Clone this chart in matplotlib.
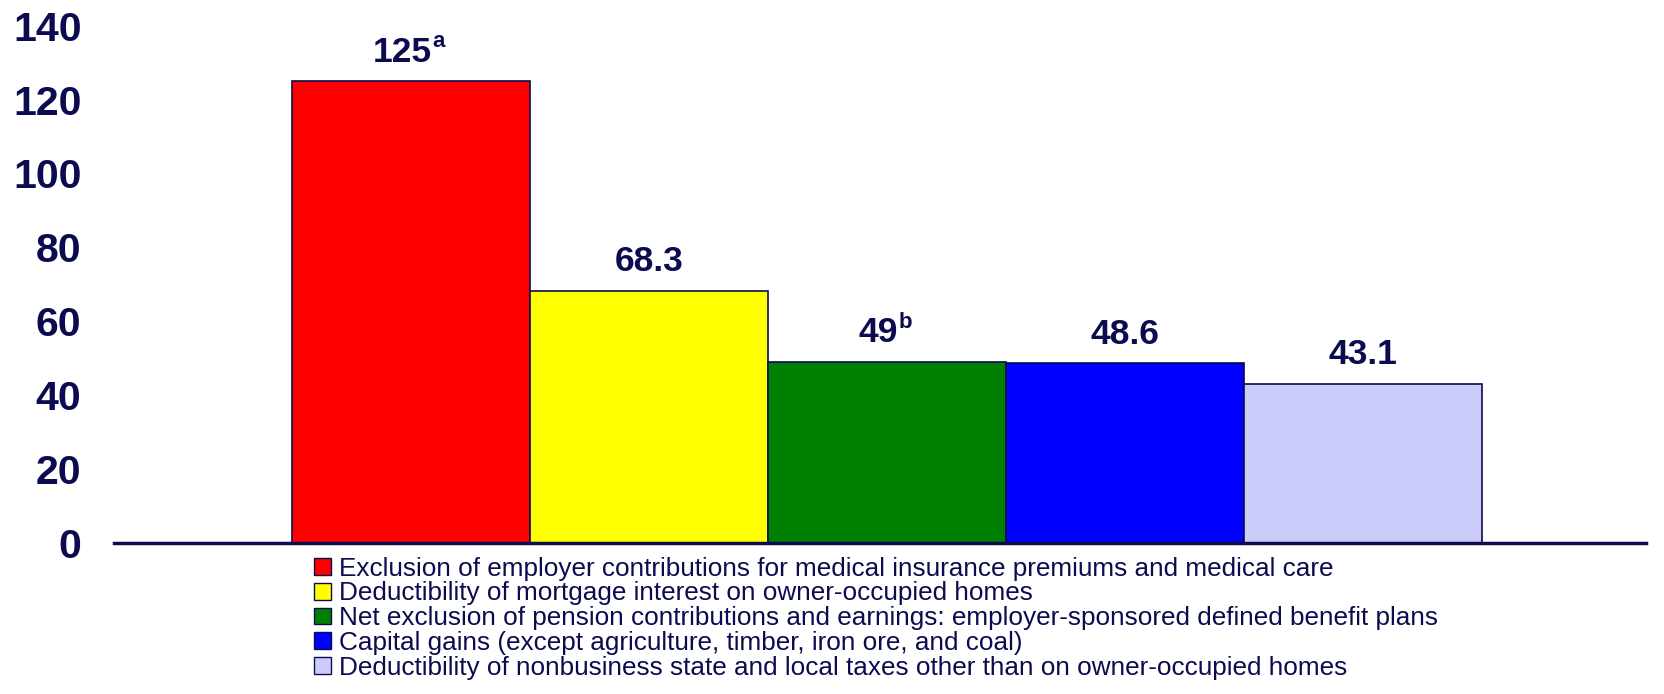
import matplotlib
matplotlib.use("Agg")
import matplotlib.pyplot as plt
from matplotlib.patches import Patch

categories = [
    "Exclusion of employer contributions for medical insurance premiums and medical care",
    "Deductibility of mortgage interest on owner-occupied homes",
    "Net exclusion of pension contributions and earnings: employer-sponsored defined benefit plans",
    "Capital gains (except agriculture, timber, iron ore, and coal)",
    "Deductibility of nonbusiness state and local taxes other than on owner-occupied homes",
]
values = [125, 68.3, 49, 48.6, 43.1]
value_labels = ["125", "68.3", "49", "48.6", "43.1"]
footnotes = ["a", "", "b", "", ""]
colors = ["#ff0000", "#ffff00", "#008000", "#0000ff", "#ccccfa"]
yticks = [0, 20, 40, 60, 80, 100, 120, 140]

navy = "#0b0b4f"
plt.rcParams["font.family"] = ["Liberation Sans", "DejaVu Sans"]

fig = plt.figure(figsize=(16.65, 6.94), dpi=100)
ax = fig.add_axes([0.0685, 0.2176, 0.9201, 0.7454])

xs = list(range(len(values)))
ax.bar(xs, values, width=1.0, color=colors, edgecolor=navy, linewidth=1.2, zorder=2)
ax.set_xlim(-1.248, 5.19)
ax.set_ylim(0, 140)
ax.set_yticks(yticks)
ax.set_yticklabels([str(t) for t in yticks], fontsize=29.5, fontweight="bold", color=navy)
ax.tick_params(axis="y", length=0, pad=23.5)
ax.set_xticks([])
for s in ["left", "right", "top"]:
    ax.spines[s].set_visible(False)
ax.spines["bottom"].set_color(navy)
ax.spines["bottom"].set_linewidth(2.5)

for x, v, lab, fn in zip(xs, values, value_labels, footnotes):
    shift = -6 if fn else 0
    main = ax.annotate(lab, (x, v), xytext=(shift, 9), textcoords="offset points",
                       ha="center", va="bottom", fontsize=25.5, fontweight="bold", color=navy)
    if fn:
        ax.annotate(fn, xy=(1, 1), xycoords=main, xytext=(0, 3), textcoords="offset points",
                    ha="left", va="top", fontsize=16, fontweight="bold", color=navy)

handles = [Patch(facecolor=c, edgecolor=navy, linewidth=1.0) for c in colors]
leg = fig.legend(handles, categories, loc="upper left", bbox_to_anchor=(0.1886, 0.1980),
                 frameon=False, fontsize=18.8, handlelength=0.66, handleheight=0.62,
                 handletextpad=0.3, labelspacing=0.03, borderpad=0, borderaxespad=0)
for t in leg.get_texts():
    t.set_color(navy)

fig.savefig("out.png", dpi=100)
